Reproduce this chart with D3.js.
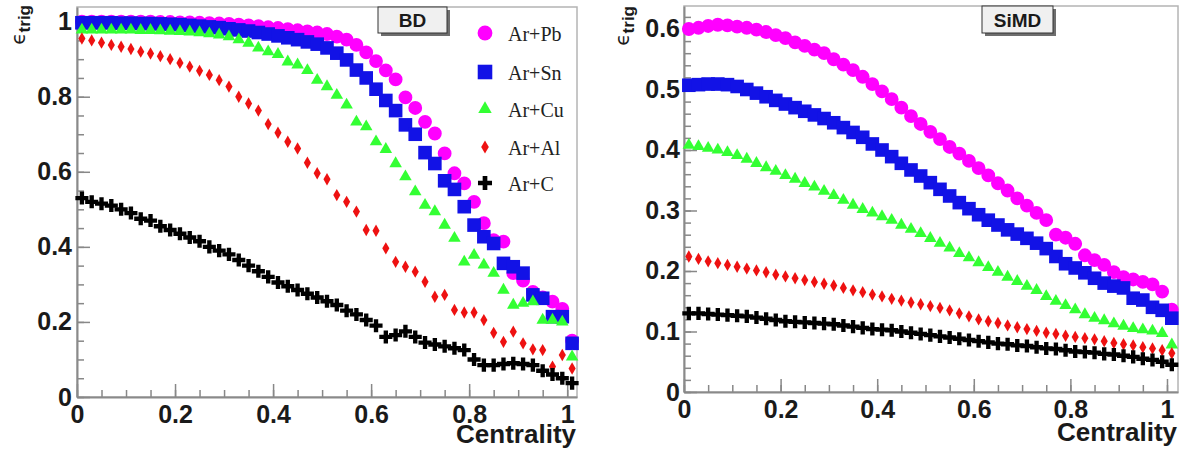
<!DOCTYPE html>
<html><head><meta charset="utf-8">
<script src="https://cdn.jsdelivr.net/npm/d3@7"></script>
<style>body{margin:0;background:#fff}svg{display:block}</style>
</head><body>
<svg id="c" width="1185" height="457"></svg>
<script>
// ---------- data ----------
const centrality = [0.01,0.03,0.05,0.07,0.09,0.11,0.13,0.15,0.17,0.19,0.21,0.23,0.25,0.27,0.29,0.31,0.33,0.35,0.37,0.39,0.41,0.43,0.45,0.47,0.49,0.51,0.53,0.55,0.57,0.59,0.61,0.63,0.65,0.67,0.69,0.71,0.73,0.75,0.77,0.79,0.81,0.83,0.85,0.87,0.89,0.91,0.93,0.95,0.97,0.99,1.01];
const seriesNames = ["Ar+Pb","Ar+Sn","Ar+Cu","Ar+Al","Ar+C"];

// BD panel
const bdPb = [1.0,1.0,1.0,1.0,1.0,1.0,1.0,1.0,0.999,0.999,0.998,0.998,0.997,0.996,0.995,0.994,0.992,0.99,0.988,0.985,0.983,0.98,0.977,0.974,0.971,0.967,0.96,0.952,0.938,0.918,0.895,0.87,0.846,0.798,0.77,0.733,0.702,0.649,0.596,0.569,0.52,0.463,0.418,0.414,0.33,0.31,0.28,0.265,0.254,0.235,0.15];
const bdSn = [0.997,0.997,0.997,0.997,0.996,0.996,0.995,0.995,0.994,0.993,0.992,0.99,0.988,0.986,0.984,0.981,0.978,0.975,0.971,0.967,0.962,0.957,0.952,0.946,0.94,0.93,0.916,0.898,0.871,0.85,0.82,0.79,0.763,0.725,0.70,0.651,0.622,0.576,0.553,0.507,0.458,0.427,0.409,0.356,0.347,0.33,0.272,0.263,0.214,0.214,0.143];
const bdCu = [0.978,0.978,0.978,0.978,0.978,0.978,0.977,0.977,0.976,0.975,0.974,0.973,0.971,0.968,0.965,0.96,0.952,0.943,0.93,0.92,0.913,0.893,0.885,0.87,0.844,0.827,0.804,0.778,0.733,0.72,0.68,0.66,0.622,0.587,0.547,0.511,0.494,0.458,0.423,0.36,0.378,0.352,0.33,0.285,0.245,0.25,0.254,0.205,0.205,0.20,0.107];
const bdAl = [0.955,0.95,0.944,0.938,0.933,0.927,0.92,0.915,0.908,0.90,0.89,0.88,0.869,0.858,0.844,0.827,0.80,0.782,0.763,0.727,0.704,0.68,0.662,0.624,0.596,0.58,0.538,0.52,0.494,0.445,0.443,0.396,0.36,0.347,0.334,0.307,0.267,0.272,0.232,0.225,0.225,0.205,0.171,0.147,0.174,0.143,0.127,0.125,0.081,0.112,0.076];
const bdC  = [0.53,0.52,0.515,0.51,0.50,0.49,0.475,0.47,0.455,0.445,0.435,0.425,0.415,0.40,0.39,0.38,0.365,0.35,0.335,0.32,0.305,0.295,0.285,0.275,0.265,0.255,0.245,0.23,0.22,0.205,0.19,0.16,0.165,0.175,0.16,0.145,0.14,0.135,0.13,0.125,0.10,0.085,0.085,0.088,0.09,0.088,0.085,0.07,0.06,0.05,0.037];

// SiMD panel
const simdPb = [0.600,0.602,0.605,0.607,0.606,0.604,0.602,0.599,0.595,0.59,0.585,0.578,0.572,0.566,0.56,0.55,0.541,0.532,0.521,0.509,0.497,0.484,0.47,0.456,0.443,0.43,0.418,0.405,0.394,0.382,0.37,0.358,0.345,0.333,0.32,0.308,0.296,0.284,0.26,0.255,0.245,0.226,0.218,0.21,0.198,0.19,0.186,0.182,0.178,0.166,0.136];
const simdSn = [0.507,0.508,0.509,0.509,0.508,0.505,0.50,0.494,0.488,0.482,0.476,0.47,0.464,0.458,0.452,0.445,0.437,0.429,0.421,0.41,0.40,0.389,0.378,0.367,0.357,0.346,0.335,0.324,0.313,0.303,0.293,0.284,0.276,0.268,0.261,0.254,0.246,0.237,0.224,0.212,0.205,0.197,0.188,0.18,0.175,0.172,0.155,0.152,0.14,0.135,0.122];
const simdCu = [0.408,0.406,0.403,0.40,0.396,0.391,0.385,0.378,0.371,0.365,0.358,0.352,0.345,0.339,0.332,0.325,0.317,0.309,0.302,0.296,0.29,0.284,0.276,0.269,0.262,0.254,0.246,0.238,0.229,0.222,0.214,0.206,0.198,0.19,0.183,0.175,0.168,0.158,0.15,0.143,0.136,0.128,0.122,0.118,0.113,0.109,0.105,0.103,0.101,0.097,0.078];
const simdAl = [0.224,0.220,0.216,0.213,0.21,0.207,0.204,0.201,0.198,0.194,0.191,0.188,0.185,0.182,0.179,0.176,0.172,0.168,0.165,0.161,0.158,0.154,0.151,0.148,0.145,0.142,0.139,0.135,0.13,0.125,0.12,0.117,0.114,0.11,0.107,0.104,0.101,0.098,0.096,0.093,0.091,0.089,0.087,0.084,0.081,0.079,0.077,0.074,0.072,0.069,0.064];
const simdC  = [0.13,0.13,0.129,0.128,0.127,0.126,0.125,0.123,0.121,0.119,0.117,0.116,0.115,0.114,0.113,0.112,0.11,0.108,0.106,0.104,0.103,0.102,0.10,0.098,0.096,0.094,0.092,0.09,0.088,0.086,0.084,0.082,0.08,0.079,0.077,0.076,0.074,0.072,0.071,0.069,0.067,0.066,0.065,0.063,0.062,0.06,0.058,0.055,0.053,0.05,0.045];

const xTickLabels = ["0","0.2","0.4","0.6","0.8","1"];
const yTickLabelsBD = ["0","0.2","0.4","0.6","0.8","1"];
const yTickLabelsSiMD = ["0","0.1","0.2","0.3","0.4","0.5","0.6"];
const xTitle = "Centrality";
const panelTitles = ["BD","SiMD"];

// ---------- styles ----------
const markerStyles = [
  {color:"#ff00ff", type:d3.symbolCircle,   size:150},
  {color:"#1212e6", type:d3.symbolSquare,   size:185},
  {color:"#33ff33", type:d3.symbolTriangle, size:68},
  {color:"#ee1111", type:d3.symbolDiamond,  size:44},
  {color:"#000000", type:d3.symbolCross,    size:95}
];
const SANS = "'Liberation Sans', Arial, Helvetica, sans-serif";
const SERIF = "'Liberation Serif', 'Times New Roman', serif";

const svg = d3.select("#c");
svg.append("rect").attr("width",1185).attr("height",457).attr("fill","#fff");

function drawPanel(p){
  const x = d3.scaleLinear().domain([0,p.xMax]).range([p.l,p.r]);
  const y = d3.scaleLinear().domain([0,p.yMax]).range([p.b,p.t]);
  const g = svg.append("g");

  // frame
  g.append("rect").attr("x",p.l).attr("y",p.t).attr("width",p.r-p.l).attr("height",p.b-p.t)
    .attr("fill","none").attr("stroke","#b4b4b4").attr("stroke-width",1.5);

  // minor ticks
  const minorX = d3.range(0, p.xMax+1e-9, 0.05);
  const minorY = d3.range(0, p.yMax+1e-9, p.yMinor);
  g.append("g").attr("transform",`translate(0,${p.b})`)
    .call(d3.axisBottom(x).tickValues(minorX).tickSize(-7).tickFormat(""))
    .call(a=>{a.select(".domain").remove(); a.selectAll("line").attr("stroke","#888").attr("stroke-width",1.5);});
  g.append("g").attr("transform",`translate(${p.l},0)`)
    .call(d3.axisLeft(y).tickValues(minorY).tickSize(-7).tickFormat(""))
    .call(a=>{a.select(".domain").remove(); a.selectAll("line").attr("stroke","#888").attr("stroke-width",1.5);});

  // major axes
  const styleAxis = a=>{
    a.select(".domain").attr("stroke","#8a8a8a").attr("stroke-width",2);
    a.selectAll(".tick line").attr("stroke","#888").attr("stroke-width",1.5);
    a.selectAll("text").attr("fill","#1a1a1a").style("font-family",SANS).style("font-weight","bold").style("font-size","25px");
  };
  g.append("g").attr("transform",`translate(0,${p.b})`)
    .call(d3.axisBottom(x).tickValues(xTickLabels.map(Number)).tickFormat((d,i)=>xTickLabels[i])
      .tickSize(-13).tickSizeOuter(0).tickPadding(8))
    .call(styleAxis);
  g.append("g").attr("transform",`translate(${p.l},0)`)
    .call(d3.axisLeft(y).tickValues(p.yLabels.map(Number)).tickFormat((d,i)=>p.yLabels[i])
      .tickSize(-13).tickSizeOuter(0).tickPadding(p.yPad))
    .call(styleAxis);

  // series
  p.series.forEach((vals,si)=>{
    const st = markerStyles[si];
    const sym = d3.symbol(st.type, st.size);
    g.append("g").selectAll("path")
      .data(vals.map((v,j)=>[centrality[j], v]))
      .join("path")
      .attr("transform",d=>`translate(${x(d[0])},${y(d[1])})`)
      .attr("d",sym())
      .attr("fill",st.color);
  });

  // x title
  g.append("text").attr("x",p.r-1).attr("y",p.xtY).attr("text-anchor","end")
    .style("font-family",SANS).style("font-weight","bold").style("font-size","26px")
    .attr("fill","#1a1a1a").text(xTitle);

  // y title  (epsilon_trig rotated)
  const yt = g.append("text").attr("transform",`translate(${p.ytX},${p.ytY}) rotate(-90)`)
    .attr("text-anchor","end").attr("fill","#1a1a1a");
  yt.append("tspan").style("font-family","'DejaVu Sans', sans-serif").style("font-size","20px").text("\u03F5");
  yt.append("tspan").attr("dy",5).style("font-family",SANS).style("font-weight","bold").style("font-size","17px").text("trig");

  // title box with shadow
  const bx = p.box;
  g.append("rect").attr("x",bx[0]+3).attr("y",bx[1]+3).attr("width",bx[2]).attr("height",bx[3]).attr("fill","#6e6e6e");
  g.append("rect").attr("x",bx[0]).attr("y",bx[1]).attr("width",bx[2]).attr("height",bx[3])
    .attr("fill","#f0f0f0").attr("stroke","#333").attr("stroke-width",1);
  g.append("text").attr("x",bx[0]+bx[2]/2).attr("y",bx[1]+bx[3]/2+7).attr("text-anchor","middle")
    .style("font-family",SANS).style("font-weight","bold").style("font-size","19px").attr("fill","#1a1a1a")
    .text(p.title);
  return {x,y,g};
}

const left = drawPanel({l:77,r:577,t:7,b:397,xMax:1.02,yMax:1.039,yMinor:0.05,yLabels:yTickLabelsBD,yPad:5,
  series:[bdPb,bdSn,bdCu,bdAl,bdC], xtY:443, ytX:25, ytY:5, box:[378,7,69,26], title:panelTitles[0]});
drawPanel({l:684,r:1178,t:6,b:392,xMax:1.0228,yMax:0.638,yMinor:0.02,yLabels:yTickLabelsSiMD,yPad:4,
  series:[simdPb,simdSn,simdCu,simdAl,simdC], xtY:441, ytX:629, ytY:6, box:[982,6,71,27], title:panelTitles[1]});

// legend (in BD panel)
const legY = [33,72,109,147,183];
const lg = svg.append("g");
seriesNames.forEach((name,i)=>{
  const st = markerStyles[i];
  lg.append("path").attr("transform",`translate(485,${legY[i]})`)
    .attr("d",d3.symbol(st.type, st.size*1.15)()).attr("fill",st.color);
  lg.append("text").attr("x",508).attr("y",legY[i]+8)
    .style("font-family",SERIF).style("font-size","20px").attr("fill","#222").text(name);
});
</script>
</body></html>
